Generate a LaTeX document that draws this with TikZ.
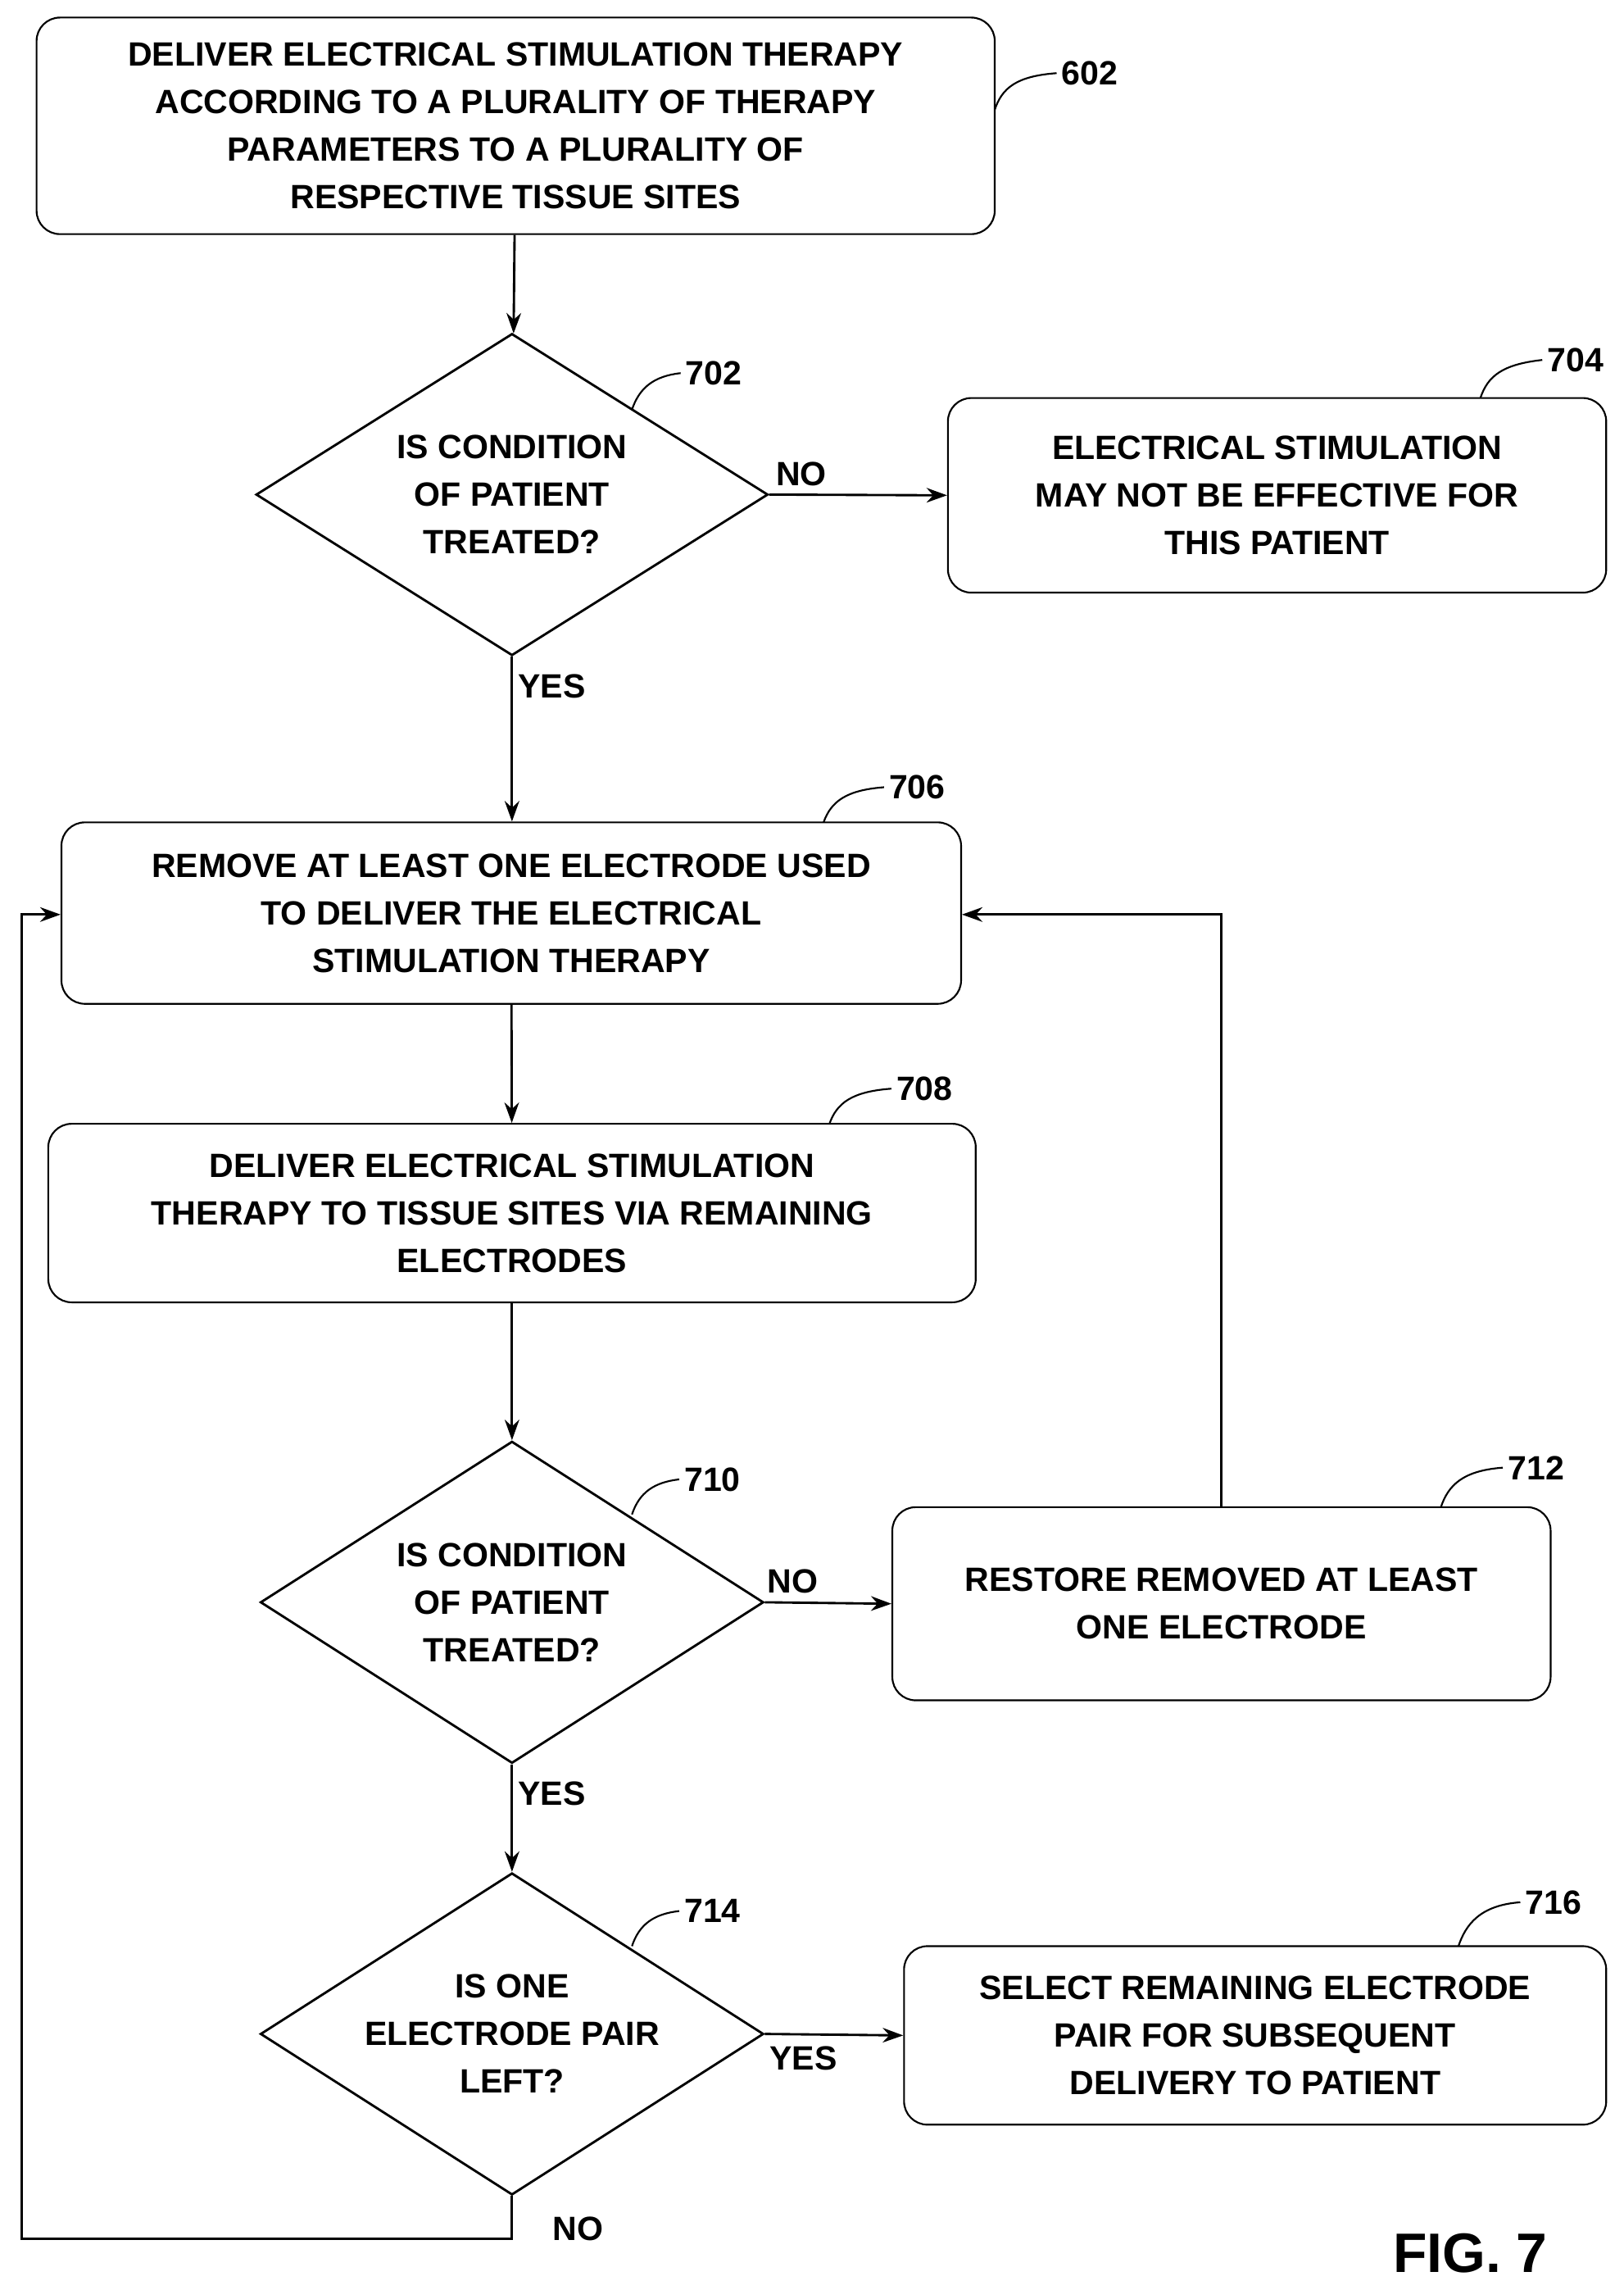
\documentclass[tikz,border=0pt]{standalone}
\usepackage{fontspec}
\setmainfont{Liberation Sans}
\usetikzlibrary{arrows.meta,shapes.geometric}
\begin{document}
\begin{tikzpicture}[x=1pt,y=-1pt,
 box/.style={draw,line width=1.2pt,rounded corners=16pt,align=center,font=\fontsize{23}{32.5}\selectfont\bfseries},
 dia/.style={draw,line width=1.6pt,diamond,aspect=1.57,inner sep=0pt,align=center,font=\fontsize{23}{32.5}\selectfont\bfseries},
 lab/.style={font=\fontsize{23}{28}\selectfont\bfseries},
 ln/.style={line width=1.6pt},
 ar/.style={ln,-{Stealth[length=14pt,width=10pt]}},
 lead/.style={line width=1.2pt}]
\useasboundingbox (0,0) rectangle (1110,1565);
\node[box,minimum width=655pt,minimum height=148pt] (b602) at (352.5,86) {DELIVER ELECTRICAL STIMULATION THERAPY\\ACCORDING TO A PLURALITY OF THERAPY\\PARAMETERS TO A PLURALITY OF\\RESPECTIVE TISSUE SITES};
\node[dia,minimum width=350pt,minimum height=220pt] (d702) at (350,338) {IS CONDITION\\OF PATIENT\\TREATED?};
\node[box,minimum width=450pt,minimum height=133pt] (b704) at (873,338.5) {ELECTRICAL STIMULATION\\MAY NOT BE EFFECTIVE FOR\\THIS PATIENT};
\node[box,minimum width=615pt,minimum height=124pt] (b706) at (349.5,624) {REMOVE AT LEAST ONE ELECTRODE USED\\TO DELIVER THE ELECTRICAL\\STIMULATION THERAPY};
\node[box,minimum width=634pt,minimum height=122pt] (b708) at (350,829) {DELIVER ELECTRICAL STIMULATION\\THERAPY TO TISSUE SITES VIA REMAINING\\ELECTRODES};
\node[dia,minimum width=344pt,minimum height=220pt] (d710) at (350,1095) {IS CONDITION\\OF PATIENT\\TREATED?};
\node[box,minimum width=450pt,minimum height=132pt] (b712) at (835,1096) {RESTORE REMOVED AT LEAST\\ONE ELECTRODE};
\node[dia,minimum width=344pt,minimum height=220pt] (d714) at (350,1390) {IS ONE\\ELECTRODE PAIR\\LEFT?};
\node[box,minimum width=480pt,minimum height=122pt] (b716) at (858,1391) {SELECT REMAINING ELECTRODE\\PAIR FOR SUBSEQUENT\\DELIVERY TO PATIENT};
% labels
\node[lab] (l602) at (745,50) {602};
\node[lab] (l702) at (488,255) {702};
\node[lab] (l704) at (1077,246) {704};
\node[lab] (l706) at (627,538) {706};
\node[lab] (l708) at (632,744) {708};
\node[lab] (l710) at (487,1011) {710};
\node[lab] (l712) at (1050,1003) {712};
\node[lab] (l714) at (487,1306) {714};
\node[lab] (l716) at (1062,1300) {716};
\draw[lead] (680,75) .. controls (685,60) and (695,52) .. (l602.west);
\draw[lead] (432,280) .. controls (437,265) and (447,257) .. (l702.west);
\draw[lead] (1012,272) .. controls (1017,257) and (1027,249) .. (l704.west);
\draw[lead] (563,562) .. controls (568,548) and (578,540) .. (l706.west);
\draw[lead] (567,768) .. controls (572,754) and (582,746) .. (l708.west);
\draw[lead] (432,1035) .. controls (437,1020) and (447,1013) .. (l710.west);
\draw[lead] (985,1030) .. controls (990,1015) and (1000,1005) .. (l712.west);
\draw[lead] (432,1330) .. controls (437,1315) and (447,1308) .. (l714.west);
\draw[lead] (997,1330) .. controls (1002,1315) and (1012,1302) .. (l716.west);
% connectors
\draw[ar] (b602) -- (d702);
\draw[ar] (d702.east) -- node[lab,above=2pt,pos=0.18]{NO} (b704.west);
\draw[ar] (d702.south) -- node[lab,right,pos=0.18]{YES} (b706.north -| d702.south);
\draw[ar] (b706) -- (b708);
\draw[ar] (b708) -- (d710);
\draw[ar] (d710.east) -- node[lab,above=2pt,pos=0.22]{NO} (b712.west);
\draw[ar] (d710.south) -- node[lab,right,pos=0.27]{YES} (d714.north);
\draw[ar] (d714.east) -- node[lab,below=4pt,pos=0.28]{YES} (b716.west);
\draw[ar] (b712.north) |- (b706.east |- 0,625);
\coordinate (c1) at (350,1530);
\coordinate (c2) at (15,1530);
\draw[ar] (d714.south) -- (c1) -- (c2) |- (b706.west |- 0,625);
\node[lab] at (395,1523) {NO};
\node[font=\fontsize{38}{44}\selectfont\bfseries] (fig) at (1005,1540) {FIG. 7};
\end{tikzpicture}
\end{document}
